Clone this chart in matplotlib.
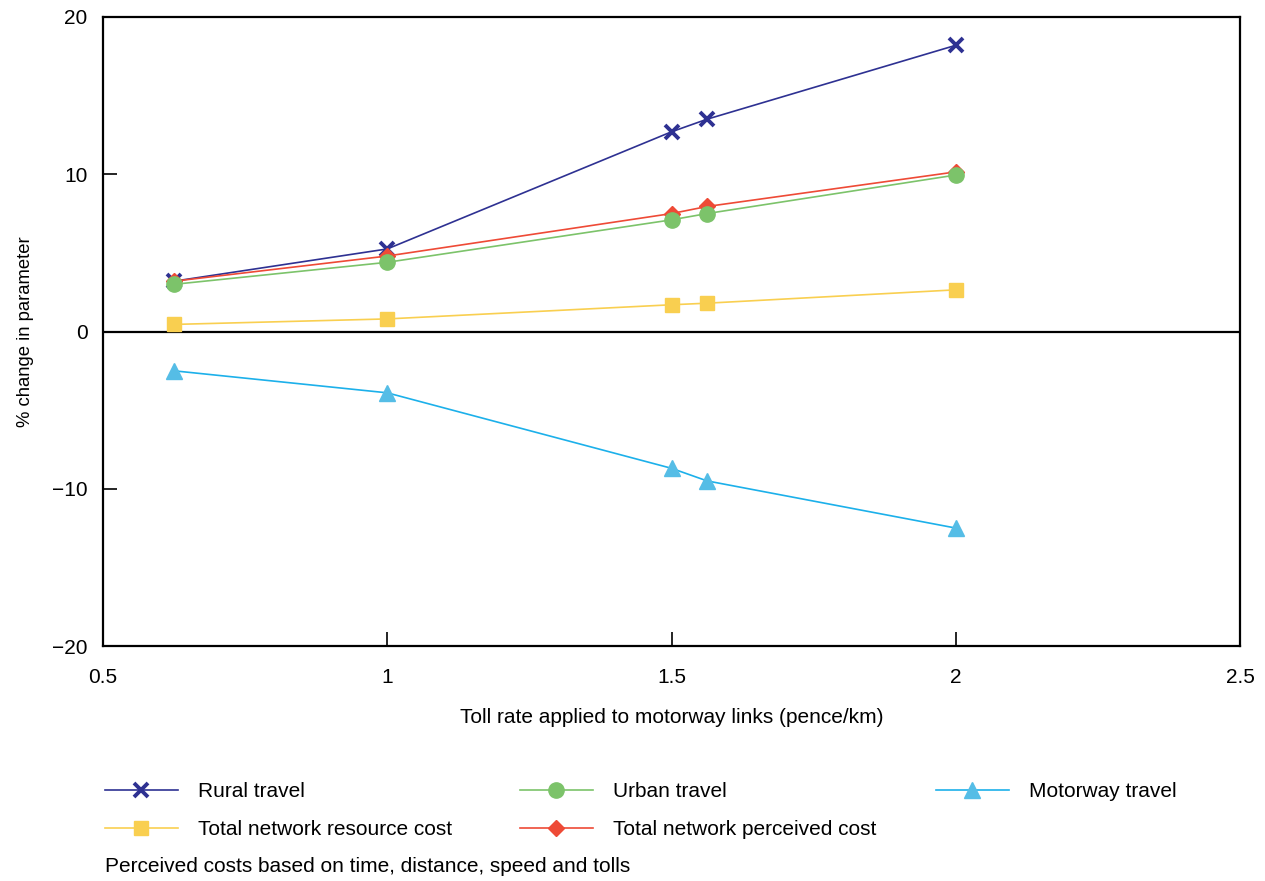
import matplotlib
matplotlib.use('Agg')
import matplotlib.pyplot as plt
from matplotlib.lines import Line2D

plt.rcParams['font.family'] = ['Liberation Sans', 'DejaVu Sans']

# toll rate (pence/km)
toll = [0.625, 1.0, 1.5, 1.5625, 2.0]

rural = [3.2, 5.25, 12.7, 13.5, 18.2]
urban = [3.0, 4.4, 7.1, 7.5, 9.95]
motorway = [-2.5, -3.9, -8.7, -9.5, -12.5]
resource_cost = [0.45, 0.8, 1.7, 1.8, 2.65]
perceived_cost = [3.2, 4.8, 7.5, 7.95, 10.15]

x_ticks = [0.5, 1, 1.5, 2, 2.5]
x_ticklabels = ['0.5', '1', '1.5', '2', '2.5']
y_ticks = [-20, -10, 0, 10, 20]

c_rural = '#2e3192'
c_urban = '#7cc36a'
c_motor = '#1cb0ea'
c_motor_mk = '#55bde6'
c_res = '#f9cf50'
c_perc = '#ee4a36'

FS = 15

fig = plt.figure(figsize=(12.65, 8.81), dpi=100)
ax = fig.add_axes([103/1265, 1 - 646/881, (1240-103)/1265, (646-17)/881])

ax.axhline(0, color='black', lw=1.6, zorder=1)

ax.plot(toll, resource_cost, color=c_res, lw=1.2, marker='s', ms=10, mfc=c_res, mec=c_res, zorder=3)
ax.plot(toll, motorway, color=c_motor, lw=1.2, marker='^', ms=11, mfc=c_motor_mk, mec=c_motor_mk, zorder=3)
ax.plot(toll, rural, color=c_rural, lw=1.2, marker='x', ms=10, mew=2.8, zorder=3)
ax.plot(toll, perceived_cost, color=c_perc, lw=1.2, marker='D', ms=8, mfc=c_perc, mec=c_perc, zorder=4)
ax.plot(toll, urban, color=c_urban, lw=1.2, marker='o', ms=11, mfc=c_urban, mec=c_urban, zorder=5)

ax.set_xlim(0.5, 2.5)
ax.set_ylim(-20, 20)
ax.set_xticks(x_ticks)
ax.set_xticklabels(x_ticklabels)
ax.set_yticks(y_ticks)
ax.tick_params(direction='in', length=10, width=1.2, labelsize=FS, color='black')
ax.tick_params(axis='x', pad=16)
ax.tick_params(axis='y', pad=11)
for sp in ax.spines.values():
    sp.set_linewidth(1.6)

ax.set_xlabel('Toll rate applied to motorway links (pence/km)', fontsize=FS, labelpad=15)
ax.set_ylabel('% change in parameter', fontsize=13.3, labelpad=13)

# legend, three columns placed by hand
def make_handle(color, marker, **kw):
    return Line2D([], [], color=color, lw=1.2, marker=marker, **kw)

cols = [
    (105, [(make_handle(c_rural, 'x', ms=10, mew=2.8), 'Rural travel'),
           (make_handle(c_res, 's', ms=10, mfc=c_res, mec=c_res), 'Total network resource cost')]),
    (520, [(make_handle(c_urban, 'o', ms=11, mfc=c_urban, mec=c_urban), 'Urban travel'),
           (make_handle(c_perc, 'D', ms=8, mfc=c_perc, mec=c_perc), 'Total network perceived cost')]),
    (936, [(make_handle(c_motor, '^', ms=11, mfc=c_motor_mk, mec=c_motor_mk), 'Motorway travel')]),
]
for xpix, items in cols:
    leg = fig.legend([h for h, _ in items], [l for _, l in items],
                     loc='upper left', bbox_to_anchor=(xpix/1265, 1 - 782/881),
                     frameon=False, fontsize=FS, handlelength=3.5, handletextpad=0.95,
                     labelspacing=0.92, borderpad=0, borderaxespad=0)

fig.text(105/1265, 1 - 866/881, 'Perceived costs based on time, distance, speed and tolls',
         fontsize=FS, va='center', ha='left')

fig.savefig('out.png', dpi=100)
